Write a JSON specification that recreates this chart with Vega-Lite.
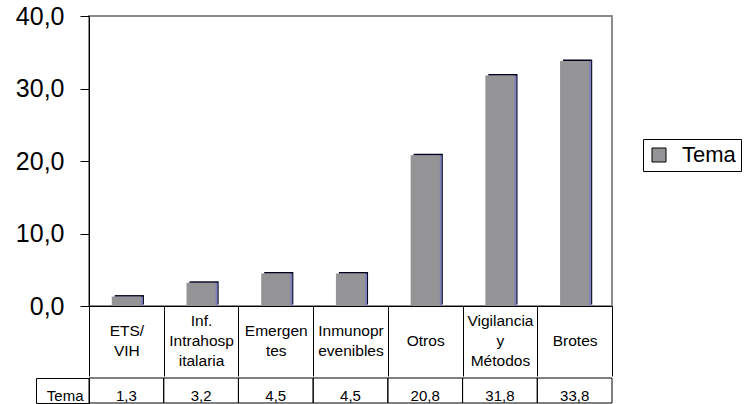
{
  "$schema": "https://vega.github.io/schema/vega-lite/v6.json",
  "padding": {"left": 14, "top": 3, "right": 0, "bottom": 0},
  "background": "white",
  "config": {
    "locale": {"number": {"decimal": ",", "thousands": ".", "grouping": [3], "currency": ["", " €"]}},
    "font": "Arial, Liberation Sans",
    "axis": {"labelFont": "Arial, Liberation Sans", "labelColor": "black", "domainColor": "black", "tickColor": "black", "grid": false, "title": null}
  },
  "data": {
    "values": [
      {"tema": "ETS/|VIH", "serie": "Tema", "valor": 1.3},
      {"tema": "Inf.|Intrahosp|italaria", "serie": "Tema", "valor": 3.2},
      {"tema": "Emergen|tes", "serie": "Tema", "valor": 4.5},
      {"tema": "Inmunopr|evenibles", "serie": "Tema", "valor": 4.5},
      {"tema": "Otros", "serie": "Tema", "valor": 20.8},
      {"tema": "Vigilancia|y|Métodos", "serie": "Tema", "valor": 31.8},
      {"tema": "Brotes", "serie": "Tema", "valor": 33.8}
    ]
  },
  "spacing": -9,
  "vconcat": [
    {
      "width": 523,
      "height": 290,
      "view": {"stroke": "#8c8c8c", "strokeWidth": 2},
      "encoding": {
        "x": {
          "field": "tema", "type": "nominal", "sort": null,
          "scale": {"paddingInner": 0, "paddingOuter": 0},
          "axis": {
            "tickBand": "extent", "tickSize": 70,
            "labelPadding": {
              "condition": [
                {"test": "length(split(datum.label, '|')) == 3", "value": -56},
                {"test": "length(split(datum.label, '|')) == 2", "value": -46}
              ],
              "value": -36
            },
            "labelBaseline": "middle", "labelAngle": 0, "labelFontSize": 15.5,
            "labelLineHeight": 20, "labelOverlap": false,
            "labelExpr": "split(datum.label, '|')"
          }
        },
        "y": {
          "field": "valor", "type": "quantitative",
          "scale": {"domain": [0, 40]},
          "axis": {"values": [0, 10, 20, 30, 40], "format": ".1f", "tickSize": 9, "labelPadding": 16, "labelFontSize": 25}
        }
      },
      "layer": [
        {"mark": {"type": "bar", "color": "#000018", "width": {"band": 0.39}, "xOffset": 3, "yOffset": -1.5}},
        {"mark": {"type": "bar", "color": "#8080ba", "width": {"band": 0.39}, "xOffset": 2}},
        {
          "mark": {"type": "bar", "width": {"band": 0.39}},
          "encoding": {
            "color": {
              "field": "serie", "type": "nominal",
              "scale": {"range": ["#949497"]},
              "legend": {
                "title": null, "orient": "none", "legendX": 554, "legendY": 123,
                "padding": 5, "strokeColor": "black", "fillColor": "white",
                "symbolType": "square", "symbolSize": 196, "symbolStrokeColor": "black",
                "symbolStrokeWidth": 1, "symbolOpacity": 1,
                "labelFontSize": 22, "labelFont": "Arial, Liberation Sans", "labelColor": "black", "labelOffset": 12
              }
            }
          }
        }
      ]
    },
    {
      "width": 523,
      "height": 25,
      "view": {"stroke": null},
      "resolve": {"axis": {"y": "independent"}},
      "encoding": {
        "x": {"field": "tema", "type": "nominal", "sort": null, "scale": {"paddingInner": 0, "paddingOuter": 0}, "axis": null}
      },
      "layer": [
        {
          "mark": {"type": "rect", "fill": "white", "fillOpacity": 0, "stroke": "black", "strokeWidth": 1},
          "encoding": {
            "y": {
              "field": "serie", "type": "nominal",
              "scale": {"paddingInner": 0, "paddingOuter": 0},
              "axis": {"orient": "left", "tickBand": "extent", "tickSize": 53, "labelPadding": -47, "labelFontSize": 15, "labelOffset": 5, "labelAlign": "right"}
            }
          }
        },
        {
          "mark": {"type": "text", "fontSize": 15, "color": "black", "dy": 5, "font": "Arial, Liberation Sans"},
          "encoding": {
            "y": {
              "field": "serie", "type": "nominal",
              "scale": {"paddingInner": 0, "paddingOuter": 0},
              "axis": {"orient": "left", "offset": 53, "ticks": false, "labels": false, "domain": true}
            },
            "text": {"field": "valor", "type": "quantitative", "format": ".1f"}
          }
        }
      ]
    }
  ]
}
